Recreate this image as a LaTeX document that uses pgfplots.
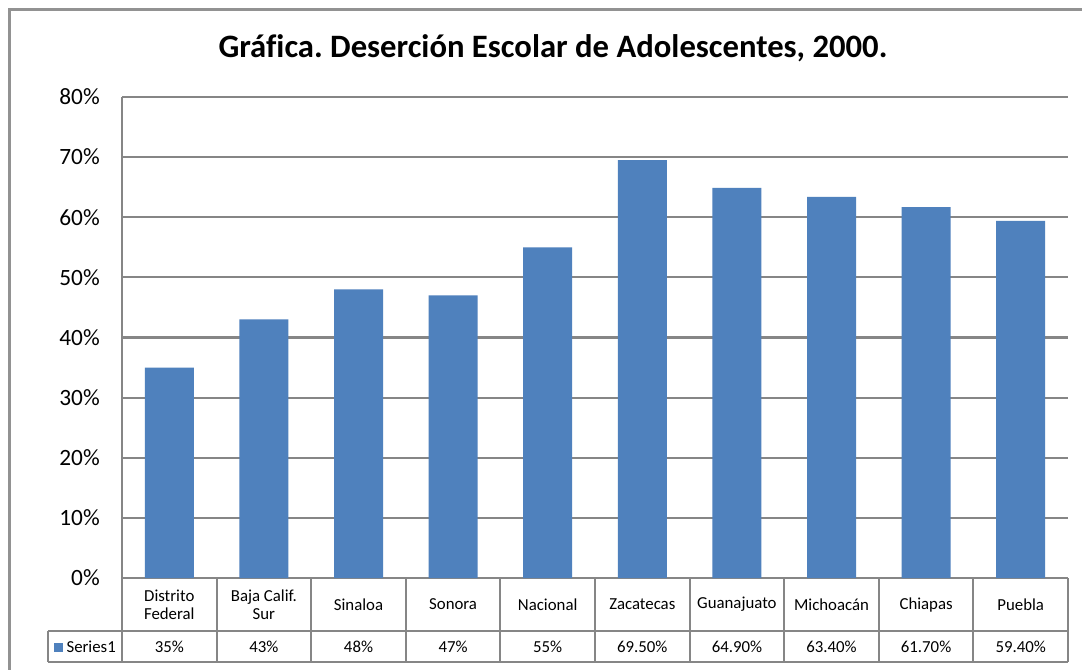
\documentclass[border=0pt]{standalone}
\usepackage{pgfplots}
\pgfplotsset{compat=1.18}
\usepackage{fontspec}
\setmainfont{Carlito}[Ligatures=NoCommon]
\frenchspacing
\definecolor{barblue}{HTML}{4F81BD}
\definecolor{gridgray}{HTML}{868686}
\begin{document}
\begin{tikzpicture}
\begin{scope}[x=0.75pt,y=0.75pt]
\useasboundingbox (0,0) rectangle (1082,669);
\clip (0,0) rectangle (1082,669);
\fill[white] (0,0) rectangle (1082,669);
\draw[gridgray!90, line width=2.2pt] (9.5,-50) -- (9.5,659.5) -- (1200,659.5);
\node[font=\bfseries\fontsize{24.5}{28}\selectfont] at (553,621) {Gráfica. Deserción Escolar de Adolescentes, 2000.};
\end{scope}
\begin{axis}[
  at={(91.5pt,68.25pt)}, anchor=south west,
  scale only axis, width=709.5pt, height=360.75pt,
  clip=false,
  xmin=-0.5, xmax=9.5, ymin=0, ymax=80,
  ytick={0,10,...,80},
  yticklabels={0\%,10\%,20\%,30\%,40\%,50\%,60\%,70\%,80\%},
  xtick={0,...,9},
  xticklabels={{Distrito\\Federal},{Baja Calif.\\Sur},Sinaloa,Sonora,Nacional,Zacatecas,Guanajuato,Michoacán,Chiapas,Puebla},
  axis x line*=bottom, axis y line*=left,
  axis line style={gridgray, line width=1.6pt, -},
  ymajorgrids, grid style={gridgray, line width=1.6pt},
  major tick length=0pt,
  yticklabel style={font=\fontsize{17.5}{20}\selectfont, inner sep=0pt, anchor=east, xshift=-16.5pt},
  xticklabel style={font=\fontsize{12.6}{13.5}\selectfont, align=center, anchor=center, inner sep=0pt, yshift=-19.9pt},
]
\addplot[ybar, bar width=36.75pt, fill=barblue, draw=none] coordinates {
 (0,35) (1,43) (2,48) (3,47) (4,55) (5,69.5) (6,64.9) (7,63.4) (8,61.7) (9,59.4)};
% data table
\pgfplotsinvokeforeach{0,...,10}{
  \draw[gridgray, line width=1.6pt] (axis cs:#1-0.5,0) -- (axis cs:#1-0.5,-13.97);
}
\draw[gridgray, line width=1.6pt] (axis cs:-1.282,-8.815) -- (axis cs:9.5,-8.815);
\draw[gridgray, line width=1.6pt] (axis cs:-1.282,-13.97) -- (axis cs:9.5,-13.97);
\draw[gridgray, line width=1.6pt] (axis cs:-1.282,-8.815) -- (axis cs:-1.282,-13.97);
\node[font=\fontsize{12.6}{13.5}\selectfont] at (axis cs:-0.891,-11.39) {\textcolor{barblue}{\rule{6.75pt}{6.75pt}}\hspace{2.5pt}Series1};
\node[font=\fontsize{12.6}{13.5}\selectfont] at (axis cs:0,-11.39) {35\%};
\node[font=\fontsize{12.6}{13.5}\selectfont] at (axis cs:1,-11.39) {43\%};
\node[font=\fontsize{12.6}{13.5}\selectfont] at (axis cs:2,-11.39) {48\%};
\node[font=\fontsize{12.6}{13.5}\selectfont] at (axis cs:3,-11.39) {47\%};
\node[font=\fontsize{12.6}{13.5}\selectfont] at (axis cs:4,-11.39) {55\%};
\node[font=\fontsize{12.6}{13.5}\selectfont] at (axis cs:5,-11.39) {69.50\%};
\node[font=\fontsize{12.6}{13.5}\selectfont] at (axis cs:6,-11.39) {64.90\%};
\node[font=\fontsize{12.6}{13.5}\selectfont] at (axis cs:7,-11.39) {63.40\%};
\node[font=\fontsize{12.6}{13.5}\selectfont] at (axis cs:8,-11.39) {61.70\%};
\node[font=\fontsize{12.6}{13.5}\selectfont] at (axis cs:9,-11.39) {59.40\%};
\end{axis}
\end{tikzpicture}
\end{document}
